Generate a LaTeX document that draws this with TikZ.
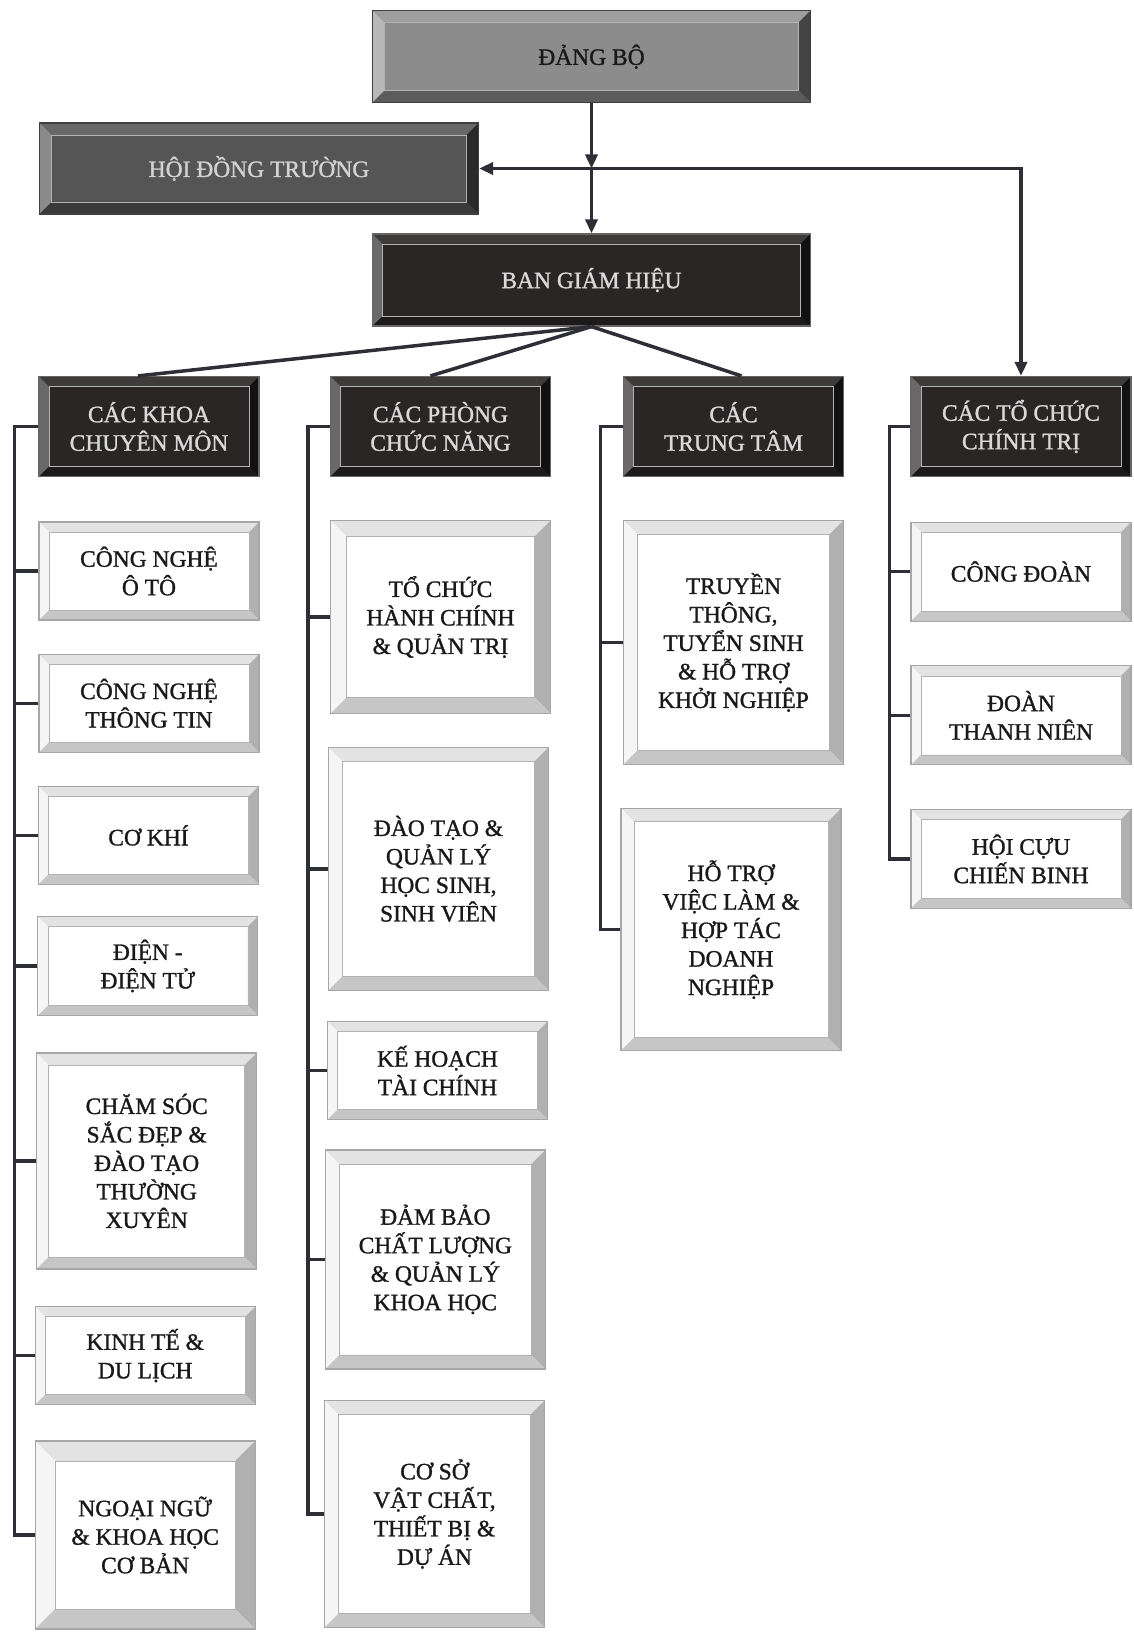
\documentclass[tikz,border=0pt]{standalone}
\usepackage{fontspec}
\setmainfont{Liberation Serif}
\newfontfamily\orgserif[FakeBold=1.2]{Liberation Serif}
\usepackage{tikz}
\usetikzlibrary{arrows.meta,positioning}
\definecolor{dbfill}{HTML}{8C8C8C}
\definecolor{dbtop}{HTML}{9E9E9E}
\definecolor{dbleft}{HTML}{B8B8B8}
\definecolor{dbright}{HTML}{444444}
\definecolor{dbbottom}{HTML}{5C5C5C}
\definecolor{hdfill}{HTML}{555555}
\definecolor{hdtop}{HTML}{686868}
\definecolor{hdleft}{HTML}{8A8A8A}
\definecolor{hdright}{HTML}{2A2A2A}
\definecolor{hdbottom}{HTML}{3A3A3A}
\definecolor{darkfill}{HTML}{2A2626}
\definecolor{darktop}{HTML}{3E3B3B}
\definecolor{darkleft}{HTML}{6A6868}
\definecolor{darkright}{HTML}{121010}
\definecolor{darkbottom}{HTML}{1C1A1A}
\definecolor{edgecol}{HTML}{2E2E36}
\tikzset{bevel/.style n args={5}{path picture={
    \coordinate (pnw) at (path picture bounding box.north west);
    \coordinate (pne) at (path picture bounding box.north east);
    \coordinate (pse) at (path picture bounding box.south east);
    \coordinate (psw) at (path picture bounding box.south west);
    \coordinate (inw) at ([shift={(#1pt,-#1pt)}]pnw);
    \coordinate (ine) at ([shift={(-#1pt,-#1pt)}]pne);
    \coordinate (ise) at ([shift={(-#1pt,#1pt)}]pse);
    \coordinate (isw) at ([shift={(#1pt,#1pt)}]psw);
    \fill[#2] (pnw) -- (pne) -- (ine) -- (inw) -- cycle;
    \fill[#3] (pnw) -- (inw) -- (isw) -- (psw) -- cycle;
    \fill[#4] (pne) -- (pse) -- (ise) -- (ine) -- cycle;
    \fill[#5] (psw) -- (isw) -- (ise) -- (pse) -- cycle;
    \draw[black!30, line width=0.6pt] (inw) rectangle (ise);}}}
\tikzset{org box/.style={rectangle, inner sep=0pt, align=center, line width=1.2pt,
    font=\orgserif\fontsize{23.5}{28.5}\selectfont}}
\tikzset{dangbo node/.style={org box, fill=dbfill, draw=black!75, text=black!90,
    minimum width=438pt, minimum height=92pt, bevel={12}{dbtop}{dbleft}{dbright}{dbbottom}}}
\tikzset{council node/.style={org box, fill=hdfill, draw=black!75, text=gray!35,
    minimum width=439pt, minimum height=91pt, bevel={12}{hdtop}{hdleft}{hdright}{hdbottom}}}
\tikzset{dark node/.style={org box, fill=darkfill, draw=black!60, text=gray!30,
    minimum width=220pt, minimum height=100pt, bevel={10}{darktop}{darkleft}{darkright}{darkbottom}}}
\tikzset{unit node/.style={org box, fill=white, draw=gray!70, text=black!90,
    minimum width=220pt, bevel={#1}{gray!22}{gray!8}{gray!62}{gray!45}}, unit node/.default=10}
\tikzset{tree edge/.style={draw=edgecol, line width=3.5pt}}
\tikzset{arrow edge/.style={tree edge, -{Triangle[length=14pt,width=12pt]}}}

\begin{document}
\begin{tikzpicture}[x=1pt, y=-1pt]
  \fill[white] (0,0) rectangle (1134,1632);
  \useasboundingbox (0,0) rectangle (1134,1632);
  % top levels
  \node [dangbo node]  (dangbo)  at (591.5, 56.7) {ĐẢNG BỘ};
  \node [council node] (hoidong) at (259, 168.5) {HỘI ĐỒNG TRƯỜNG};
  \node [dark node, minimum width=438pt, minimum height=92pt] (bgh) at (591.5, 280) {BAN GIÁM HIỆU};
  % group headers
  \node [dark node] (khoa)   at ( 149, 426.5) {CÁC KHOA\\CHUYÊN MÔN};
  \node [dark node] (phong)  at (440.5, 426.5) {CÁC PHÒNG\\CHỨC NĂNG};
  \node [dark node] (ttam)   at (733.5, 426.5) {CÁC\\TRUNG TÂM};
  \node [dark node] (tochuc) at (1021, 426.5) {CÁC TỔ CHỨC\\CHÍNH TRỊ};
  % khoa
  \node [unit node, minimum height=98pt]     (k1) at (149, 571)      {CÔNG NGHỆ\\Ô TÔ};
  \node [unit node, minimum height=98pt]     (k2) at (149, 703.3)    {CÔNG NGHỆ\\THÔNG TIN};
  \node [unit node, minimum height=98pt]     (k3) at (148.5, 835.4)  {CƠ KHÍ};
  \node [unit node, minimum height=99pt]     (k4) at (147.8, 966)    {ĐIỆN -\\ĐIỆN TỬ};
  \node [unit node=12, minimum height=216pt] (k5) at (146.7, 1161)   {CHĂM SÓC\\SẮC ĐẸP \&\\ĐÀO TẠO\\THƯỜNG\\XUYÊN};
  \node [unit node, minimum height=98pt]     (k6) at (145.2, 1355.6) {KINH TẾ \&\\DU LỊCH};
  \node [unit node=20, minimum height=188pt] (k7) at (145.2, 1535)   {NGOẠI NGỮ\\\& KHOA HỌC\\CƠ BẢN};
  % phong
  \node [unit node=16, minimum height=193pt] (p1) at (440.5, 617)    {TỔ CHỨC\\HÀNH CHÍNH\\\& QUẢN TRỊ};
  \node [unit node=14, minimum height=243pt] (p2) at (438.5, 868.8)  {ĐÀO TẠO \&\\QUẢN LÝ\\HỌC SINH,\\SINH VIÊN};
  \node [unit node, minimum height=98pt]     (p3) at (437.5, 1070.6) {KẾ HOẠCH\\TÀI CHÍNH};
  \node [unit node=14, minimum height=219pt] (p4) at (435.4, 1259.4) {ĐẢM BẢO\\CHẤT LƯỢNG\\\& QUẢN LÝ\\KHOA HỌC};
  \node [unit node=14, minimum height=227pt] (p5) at (434.5, 1514)   {CƠ SỞ\\VẬT CHẤT,\\THIẾT BỊ \&\\DỰ ÁN};
  % trung tam
  \node [unit node=14, minimum height=244pt] (t1) at (733.5, 642.4)  {TRUYỀN\\THÔNG,\\TUYỂN SINH\\\& HỖ TRỢ\\KHỞI NGHIỆP};
  \node [unit node=13, minimum height=242pt] (t2) at (731, 929.6)    {HỖ TRỢ\\VIỆC LÀM \&\\HỢP TÁC\\DOANH\\NGHIỆP};
  % to chuc chinh tri
  \node [unit node, minimum height=99pt] (c1) at (1021, 571.6) {CÔNG ĐOÀN};
  \node [unit node, minimum height=99pt] (c2) at (1021, 715.3) {ĐOÀN\\THANH NIÊN};
  \node [unit node, minimum height=99pt] (c3) at (1021, 858.9) {HỘI CỰU\\CHIẾN BINH};

  % arrows at the top
  \coordinate (cross) at (dangbo.south |- hoidong.east);
  \draw [arrow edge] (dangbo.south) -- (cross);
  \draw [arrow edge] (cross) -- (bgh.north);
  \draw [tree edge, {Triangle[length=14pt,width=12pt]}-{Triangle[length=14pt,width=12pt]}]
        (hoidong.east) -| (tochuc.north);
  \draw [tree edge] (bgh.south) -- ([xshift=-11pt]khoa.north);
  \draw [tree edge] (bgh.south) -- ([xshift=-10pt]phong.north);
  \draw [tree edge] (bgh.south) -- ([xshift=8pt]ttam.north);

  % brackets
  \coordinate (khoabar)   at (14.6, 0);
  \coordinate (phongbar)  at (308, 0);
  \coordinate (ttambar)   at (600.3, 0);
  \coordinate (tochucbar) at (889.5, 0);
  \draw [tree edge] (khoa.west) -- (khoa.west -| khoabar) -- (k7.west -| khoabar) -- (k7.west);
  \foreach \n in {k1,k2,k3,k4,k5,k6}
    \draw [tree edge] (\n.west) -- (\n.west -| khoabar);
  \draw [tree edge] (phong.west) -- (phong.west -| phongbar) -- (p5.west -| phongbar) -- (p5.west);
  \foreach \n in {p1,p2,p3,p4}
    \draw [tree edge] (\n.west) -- (\n.west -| phongbar);
  \draw [tree edge] (ttam.west) -- (ttam.west -| ttambar) -- (t2.west -| ttambar) -- (t2.west);
  \draw [tree edge] (t1.west) -- (t1.west -| ttambar);
  \draw [tree edge] (tochuc.west) -- (tochuc.west -| tochucbar) -- (c3.west -| tochucbar) -- (c3.west);
  \foreach \n in {c1,c2}
    \draw [tree edge] (\n.west) -- (\n.west -| tochucbar);
\end{tikzpicture}
\end{document}
